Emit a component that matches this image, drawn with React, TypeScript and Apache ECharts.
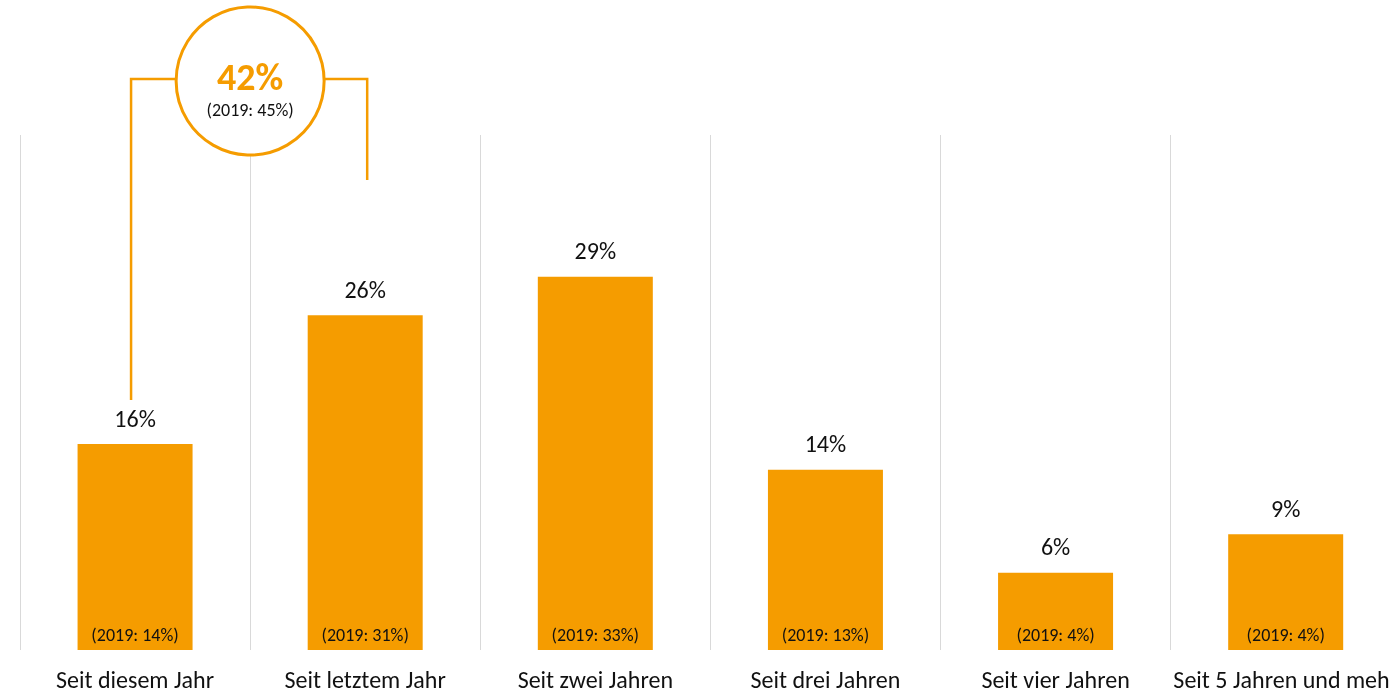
import React, { useEffect, useRef } from "react";
import * as echarts from "echarts";

const categories = [
  "Seit diesem Jahr",
  "Seit letztem Jahr",
  "Seit zwei Jahren",
  "Seit drei Jahren",
  "Seit vier Jahren",
  "Seit 5 Jahren und mehr",
];
const values2021 = [16, 26, 29, 14, 6, 9];
const values2019 = [14, 31, 33, 13, 4, 4];
const highlightValue = 42;
const highlightPrev = 45;

const ORANGE = "#F59C00";
const FONT = "Carlito, Lato, 'Open Sans', sans-serif";

export default function App() {
  const ref = useRef<HTMLDivElement>(null);
  useEffect(() => {
    document.body.style.overflow = "hidden";
    if (!ref.current) return;
    const chart = echarts.init(ref.current, null, { renderer: "svg" });
    chart.setOption({
      animation: false,
      grid: { left: 20, top: 135, bottom: 42, right: 0, containLabel: false },
      xAxis: {
        type: "category",
        data: categories,
        axisLine: { show: false },
        axisTick: { show: false },
        axisLabel: {
          interval: 0,
          margin: 17,
          fontSize: 24,
          color: "#111",
          fontFamily: FONT,
        },
        splitLine: { show: true, lineStyle: { color: "#d9d9d9", width: 1 } },
      },
      yAxis: {
        type: "value",
        min: 0,
        max: 40,
        show: false,
        splitLine: { show: false },
      },
      series: [
        {
          type: "bar",
          data: values2021,
          barWidth: 115,
          itemStyle: { color: ORANGE },
          label: {
            show: true,
            position: "top",
            distance: 14,
            formatter: "{c}%",
            fontSize: 24,
            color: "#111",
            fontFamily: FONT,
          },
        },
        {
          type: "bar",
          data: values2021,
          barWidth: 115,
          barGap: "-100%",
          silent: true,
          itemStyle: { color: "rgba(0,0,0,0)" },
          label: {
            show: true,
            position: "insideBottom",
            distance: 6,
            formatter: (p: any) => `(2019: ${values2019[p.dataIndex]}%)`,
            fontSize: 18,
            color: "#111",
            fontFamily: FONT,
          },
        },
      ],
    });

    const x0 = chart.convertToPixel({ xAxisIndex: 0 }, categories[0]) as number;
    const x1 = chart.convertToPixel({ xAxisIndex: 0 }, categories[1]) as number;
    const yTop0 = chart.convertToPixel({ yAxisIndex: 0 }, values2021[0]) as number;
    const cx = (x0 + x1) / 2;
    const cy = 81;
    const r = 74;
    const hy = 79;
    const leftX = x0 - 4;
    const rightX = x1 + 2;
    const lineStyle = { stroke: ORANGE, lineWidth: 2.5, fill: "none" };

    chart.setOption({
      graphic: [
        {
          type: "polyline",
          shape: { points: [[leftX, yTop0 - 44], [leftX, hy], [cx - r, hy]] },
          style: lineStyle,
          z: 10,
        },
        {
          type: "polyline",
          shape: { points: [[cx + r, hy], [rightX, hy], [rightX, 180]] },
          style: lineStyle,
          z: 10,
        },
        {
          type: "circle",
          shape: { cx, cy, r },
          style: { fill: "#fff", stroke: ORANGE, lineWidth: 3 },
          z: 11,
        },
        {
          type: "text",
          x: cx,
          y: 77,
          style: {
            text: `${highlightValue}%`,
            fill: ORANGE,
            font: `bold 38px ${FONT}`,
            textAlign: "center",
            textVerticalAlign: "middle",
          },
          z: 12,
        },
        {
          type: "text",
          x: cx,
          y: 110,
          style: {
            text: `(2019: ${highlightPrev}%)`,
            fill: "#111",
            font: `18px ${FONT}`,
            textAlign: "center",
            textVerticalAlign: "middle",
          },
          z: 12,
        },
      ],
    });

    return () => chart.dispose();
  }, []);
  return (
    <div
      ref={ref}
      style={{ position: "fixed", left: 0, top: 0, width: 1401, height: 692 }}
    />
  );
}
